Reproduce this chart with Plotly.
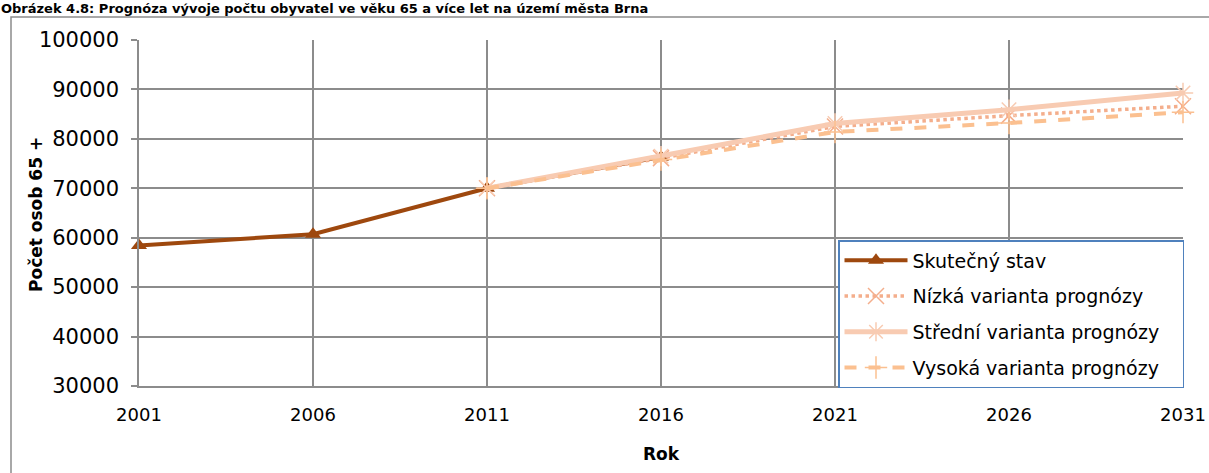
import plotly.graph_objects as go

years_actual = [2001, 2006, 2011, 2016]
actual = [58400, 60700, 70000, 76300]

years_proj = [2011, 2016, 2021, 2026, 2031]
low = [70000, 76100, 82500, 84700, 86600]
mid = [70000, 76500, 83100, 85900, 89300]
high = [70000, 75800, 81400, 83200, 85400]

x_ticks = [2001, 2006, 2011, 2016, 2021, 2026, 2031]

title = "Obrázek 4.8: Prognóza vývoje počtu obyvatel ve věku 65 a více let na území města Brna"
names = ["Skutečný stav", "Nízká varianta prognózy", "Střední varianta prognózy", "Vysoká varianta prognózy"]
y_title = "Počet osob 65 +"
x_title = "Rok"

FONT = "DejaVu Sans"
PAD = "\u00a0\u00a0\u00a0"

fig = go.Figure()
fig.add_trace(go.Scatter(
    x=years_actual, y=actual, name=names[0], mode="lines+markers",
    line=dict(color="#9E480E", width=4),
    marker=dict(symbol="triangle-up", size=14, color="#9E480E"),
    cliponaxis=False, legendgroup="a"))
fig.add_trace(go.Scatter(
    x=years_proj, y=low, name=names[1], mode="lines+markers",
    line=dict(color="#F4AE8C", width=3.5, dash="dot"),
    marker=dict(symbol="x-thin-open", size=16, line=dict(color="#F4AE8C", width=1.5)),
    cliponaxis=False, legendgroup="b"))
fig.add_trace(go.Scatter(
    x=years_proj, y=mid, name=names[2] + PAD, mode="lines+markers",
    line=dict(color="#F8CBB2", width=5),
    marker=dict(symbol="asterisk-open", size=17, line=dict(color="#F8C0A6", width=1.5)),
    cliponaxis=False, legendgroup="c"))
fig.add_trace(go.Scatter(
    x=years_proj, y=high, name=names[3], mode="lines+markers",
    line=dict(color="#FBC090", width=4, dash="dash"),
    marker=dict(symbol="cross-thin-open", size=16, line=dict(color="#F8C0A0", width=1.5)),
    cliponaxis=False, legendgroup="d"))

L, R, T, B = 139, 26, 40, 87
W, H = 1209, 473
pw, ph = W - L - R, H - T - B

fig.update_layout(
    width=W, height=H,
    margin=dict(l=L, r=R, t=T, b=B, autoexpand=False),
    paper_bgcolor="white", plot_bgcolor="white",
    font=dict(family=FONT, size=18, color="black"),
    showlegend=True,
    legend=dict(
        x=(838 - L) / pw, y=(386 - 240) / ph, xanchor="left", yanchor="top",
        bgcolor="white", bordercolor="#4F81BD", borderwidth=1.5,
        font=dict(family=FONT, size=19, color="black"),
        tracegroupgap=8, itemwidth=63,
    ),
    xaxis=dict(
        range=[2001, 2031], tickvals=x_ticks, ticktext=[str(v) for v in x_ticks],
        showgrid=True, gridcolor="#8C8C8C", gridwidth=1.5,
        showline=True, linecolor="#8C8C8C", linewidth=1.5,
        ticks="", ticklabelstandoff=12, zeroline=False, automargin=False,
        tickfont=dict(family=FONT, size=18),
        title=dict(text="<b>" + x_title + "</b>", font=dict(family=FONT, size=17), standoff=24),
    ),
    yaxis=dict(
        range=[30000, 100000], dtick=10000, tickformat="d",
        showgrid=True, gridcolor="#8C8C8C", gridwidth=1.5,
        showline=True, linecolor="#8C8C8C", linewidth=1.5,
        ticks="outside", ticklen=6, tickcolor="#8C8C8C", tickwidth=1.5,
        ticklabelstandoff=8, zeroline=False, automargin=False,
        tickfont=dict(family=FONT, size=21),
    ),
    shapes=[dict(
        type="rect", xref="paper", yref="paper",
        x0=(11 - L) / pw, x1=(W + 20 - L) / pw,
        y0=-(B + 20) / ph, y1=1 + (T - 17) / ph,
        line=dict(color="#8C8C8C", width=1.5), layer="below")],
    annotations=[
        dict(text="<b>" + title + "</b>", xref="paper", yref="paper",
             x=(0 - L) / pw, y=1 + T / ph, xanchor="left", yanchor="top",
             showarrow=False, borderpad=0,
             font=dict(family="DejaVu Sans", size=13, color="black")),
        dict(text="<b>" + y_title + "</b>", xref="paper", yref="paper",
             x=(36 - L) / pw, y=(386 - 215) / ph, xanchor="center", yanchor="middle",
             textangle=-90, showarrow=False,
             font=dict(family=FONT, size=17, color="black")),
    ],
)

fig.write_html("out.html", config={"displayModeBar": False},
               post_script="document.body.style.margin='0';document.body.style.padding='0';")
